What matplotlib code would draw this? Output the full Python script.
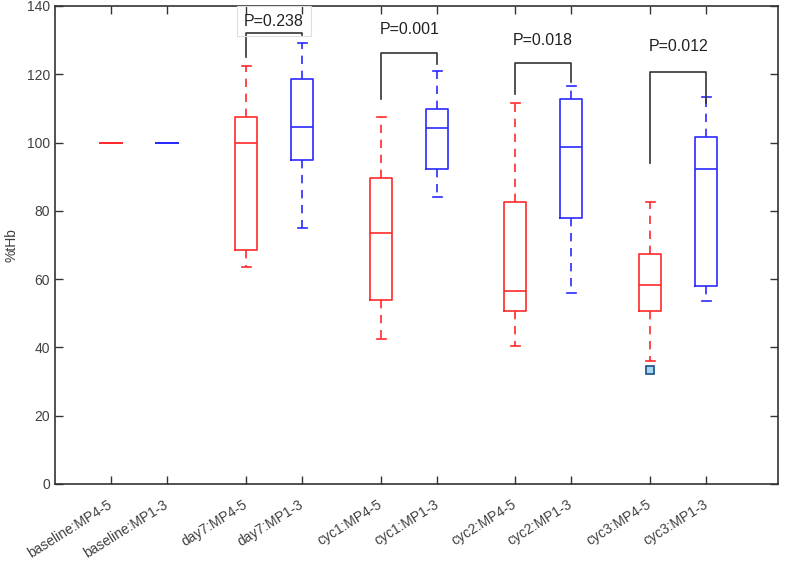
import matplotlib
matplotlib.use('Agg')
import matplotlib.pyplot as plt
import matplotlib.transforms as mtransforms

# boxplot summary values
labels = ['baseline:MP4-5', 'baseline:MP1-3', 'day7:MP4-5', 'day7:MP1-3',
          'cyc1:MP4-5', 'cyc1:MP1-3', 'cyc2:MP4-5', 'cyc2:MP1-3',
          'cyc3:MP4-5', 'cyc3:MP1-3']
positions = [1, 2, 3.41, 4.41, 5.82, 6.82, 8.21, 9.21, 10.62, 11.62]
whis_lo = [100, 100, 63.6, 75.1, 42.4, 84.0, 40.5, 56.0, 36.1, 53.6]
q1 = [100, 100, 68.5, 94.9, 53.9, 92.2, 50.8, 77.8, 50.6, 58.1]
median = [100, 100, 100.0, 104.5, 73.4, 104.4, 56.6, 98.8, 58.4, 92.4]
q3 = [100, 100, 107.4, 118.6, 89.5, 109.8, 82.7, 112.7, 67.3, 101.5]
whis_hi = [100, 100, 122.5, 129.3, 107.4, 120.9, 111.7, 116.6, 82.5, 113.2]
outliers = [[], [], [], [], [], [], [], [], [33.4], []]

# significance brackets: (left pos, right pos, top, left leg end, right leg end)
pair_left = [3.41, 5.82, 8.21, 10.62]
pair_right = [4.41, 6.82, 9.21, 11.62]
bracket_top = [132.2, 126.3, 123.4, 120.8]
leg_left = [125.2, 112.8, 114.2, 93.9]
leg_right = [131.5, 122.9, 117.8, 111.5]
p_text = ['P=0.238', 'P=0.001', 'P=0.018', 'P=0.012']
p_y = [135.6, 133.2, 130.0, 128.1]

RED = '#ff2a2a'
BLUE = '#2a2aff'
TXT = '#404040'

plt.rcParams['font.family'] = ['Liberation Sans', 'DejaVu Sans']

fig = plt.figure(figsize=(7.87, 5.65), dpi=100)
ax = fig.add_axes([0.0699, 0.1434, 0.9187, 0.846])

stats = []
for i in range(len(labels)):
    stats.append({'med': median[i], 'q1': q1[i], 'q3': q3[i],
                  'whislo': whis_lo[i], 'whishi': whis_hi[i],
                  'fliers': outliers[i]})

for i, st in enumerate(stats):
    c = RED if i % 2 == 0 else BLUE
    ax.bxp([st], positions=[positions[i]], widths=0.4, showfliers=True,
           boxprops=dict(color=c, lw=1.2),
           medianprops=dict(color=c, lw=1.2),
           whiskerprops=dict(color=c, lw=1.2, linestyle=(0, (5, 4))),
           capprops=dict(color=c, lw=1.2),
           capwidths=0.16,
           flierprops=dict(marker='s', markersize=6, markerfacecolor='#a8d8f0',
                           markeredgecolor='#1a4f8a', markeredgewidth=1.2))

for i in range(len(p_text)):
    xl, xr = pair_left[i], pair_right[i]
    ax.plot([xl, xl, xr, xr], [leg_left[i], bracket_top[i], bracket_top[i], leg_right[i]],
            color='#333333', lw=1.2, clip_on=False)
    kw = {}
    if i == 0:
        kw['bbox'] = dict(boxstyle='square,pad=0.45', fc='none', ec='#dddddd', lw=0.8)
    ax.text((xl + xr) / 2, p_y[i], p_text[i], ha='center', va='center',
            fontsize=11.5, color='#222222', clip_on=False, **kw)

ax.set_xlim(0, 12.9)
ax.set_ylim(0, 140)
ax.set_yticks(range(0, 141, 20))
ax.set_xticks(positions)
ax.set_xticklabels(labels, rotation=32, ha='right', va='center',
                   rotation_mode='anchor', fontsize=10, color=TXT)
shift = mtransforms.ScaledTranslation(11 / 100, 0, fig.dpi_scale_trans)
for lab in ax.get_xticklabels():
    lab.set_transform(lab.get_transform() + shift)
ax.tick_params(axis='y', labelsize=10, labelcolor=TXT)
ax.tick_params(direction='in', length=6, width=1, color='#333333',
               top=True, right=True, labeltop=False, labelright=False)
ax.tick_params(axis='x', pad=14)
ax.set_ylabel('%tHb', fontsize=10, color=TXT, labelpad=6)
for s in ax.spines.values():
    s.set_color('#333333')
    s.set_linewidth(1.2)

fig.savefig('out.png', dpi=100)
